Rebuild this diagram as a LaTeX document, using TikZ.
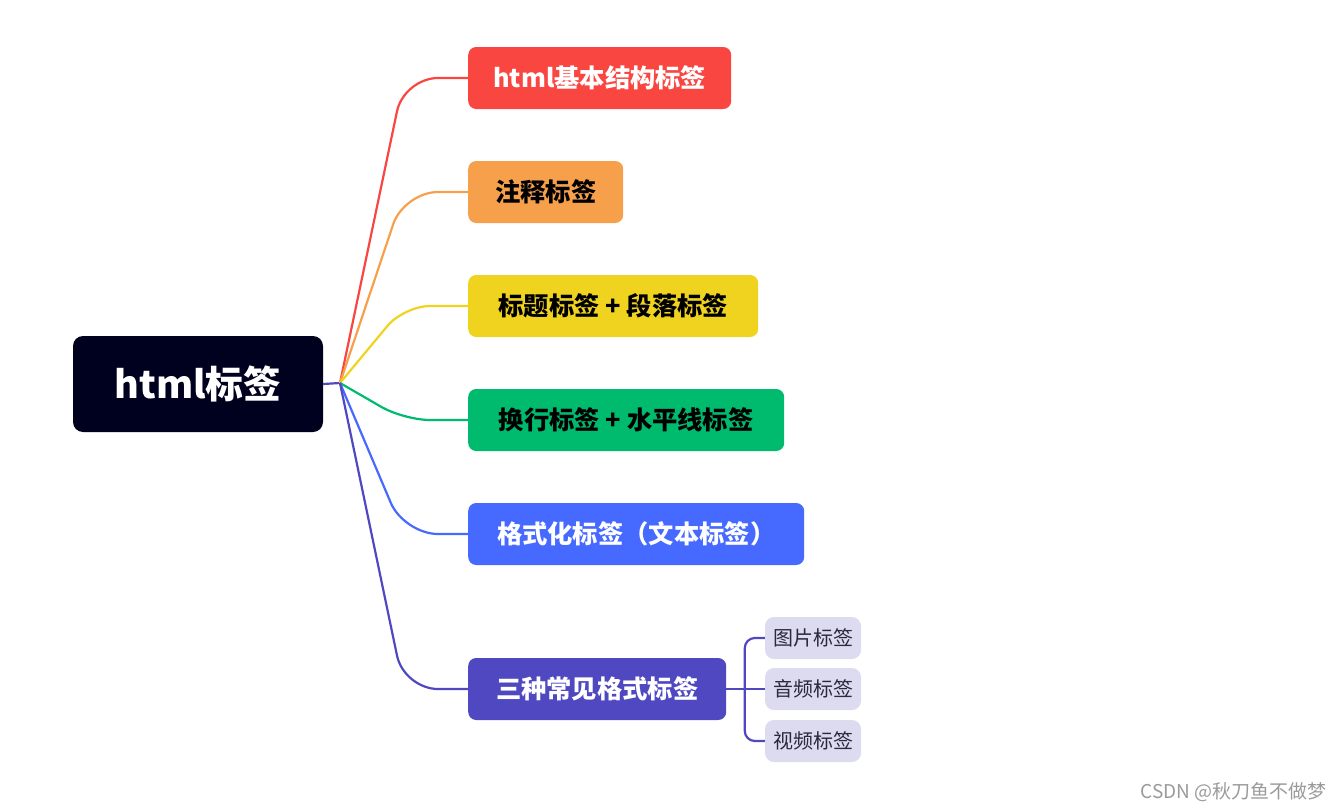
\documentclass[tikz,border=0pt]{standalone}
\usepackage{fontspec}
\setmainfont{Noto Sans CJK SC}
\definecolor{rootc}{HTML}{00001F}
\definecolor{cred}{HTML}{F94641}
\definecolor{corange}{HTML}{F6A04C}
\definecolor{cyellow}{HTML}{F0D31F}
\definecolor{cgreen}{HTML}{00BA6E}
\definecolor{cblue}{HTML}{4669FF}
\definecolor{cpurple}{HTML}{4F48C1}
\definecolor{clav}{HTML}{DCDBF0}
\definecolor{subtext}{HTML}{2A2A3A}
\definecolor{wmgray}{HTML}{9A9A9A}
\begin{document}
\begin{tikzpicture}[x=1pt,y=-1pt,
  box/.style={rounded corners=8pt, minimum height=62pt, inner sep=0pt,
    font=\fontsize{25.3}{28}\selectfont\bfseries, anchor=west},
  subbox/.style={fill=clav, rounded corners=9pt, minimum width=96pt,
    minimum height=42pt, inner sep=0pt, text=subtext,
    font=\fontsize{20}{24}\selectfont},
  link/.style={line width=2.2pt, rounded corners=34pt},
  sublink/.style={line width=2.2pt, draw=cpurple, rounded corners=10pt}]
\useasboundingbox (0,0) rectangle (1342,811);
\node[fill=rootc, rounded corners=10pt, minimum width=250pt, minimum height=96pt,
  inner sep=0pt, text=white, font=\fontsize{37.8}{42}\selectfont\bfseries]
  (root) at (198,384) {html标签};
\coordinate (hub) at (340,383);
\node[box, fill=cred, text=white, minimum width=263pt] (b1) at (468,78) {html基本结构标签};
\node[box, fill=corange, text=black, minimum width=155pt] (b2) at (468,192) {注释标签};
\node[box, fill=cyellow, text=black, minimum width=290pt] (b3) at (468,306) {标题标签 + 段落标签};
\node[box, fill=cgreen, text=black, minimum width=316pt] (b4) at (468,420) {换行标签 + 水平线标签};
\node[box, fill=cblue, text=white, minimum width=336pt] (b5) at (468,534) {格式化标签（文本标签）};
\node[box, fill=cpurple, text=white, minimum width=258pt] (b6) at (468,689) {三种常见格式标签};
\node[subbox] (s1) at (813,638) {图片标签};
\node[subbox] (s2) at (813,689) {音频标签};
\node[subbox] (s3) at (813,741) {视频标签};
\draw[link, draw=cpurple, rounded corners=0pt] (root.east) -- (hub);
\draw[link, draw=cred] (hub) -- ([xshift=-64pt]b1.west) -- (b1.west);
\draw[link, draw=corange] (hub) -- ([xshift=-64pt]b2.west) -- (b2.west);
\draw[link, draw=cyellow, rounded corners=26pt] (hub) -- ([xshift=-64pt]b3.west) -- (b3.west);
\draw[link, draw=cgreen, rounded corners=26pt] (hub) -- ([xshift=-64pt]b4.west) -- (b4.west);
\draw[link, draw=cblue] (hub) -- ([xshift=-64pt]b5.west) -- (b5.west);
\draw[link, draw=cpurple] (hub) -- ([xshift=-64pt]b6.west) -- (b6.west);
\draw[sublink, rounded corners=0pt] (b6.east) -- (s2.west);
\draw[sublink] (s1.west) -- ++(-20,0) |- (s3.west);
\node[anchor=east, text=wmgray, inner sep=0pt, font=\fontsize{19}{22}\selectfont]
  (wm) at (1327,792) {CSDN @秋刀鱼不做梦};
\end{tikzpicture}
\end{document}
